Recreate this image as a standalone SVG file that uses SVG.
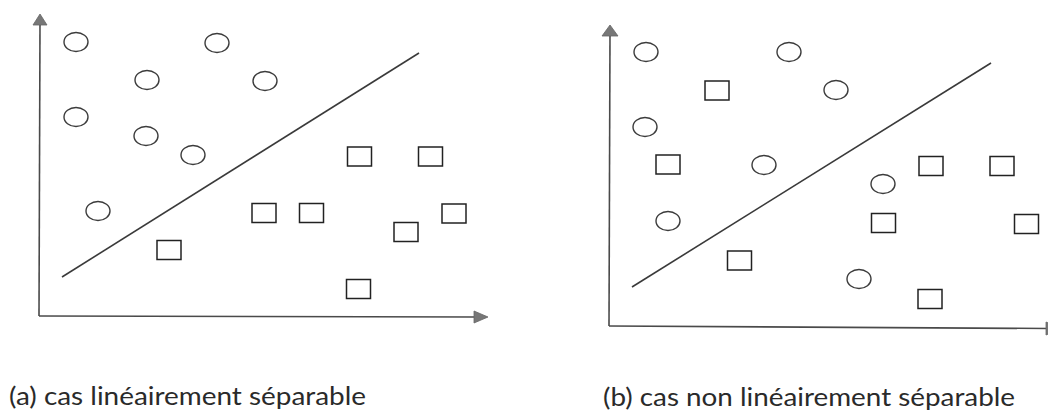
<svg xmlns="http://www.w3.org/2000/svg" xmlns:xlink="http://www.w3.org/1999/xlink" width="1048" height="412" viewBox="0 0 1048 412">
<style>
.axis{stroke:#4a4a4a;stroke-width:1.6;fill:none}
.arrow{fill:#777;stroke:#666;stroke-width:0.8}
.sep{stroke:#3a3a3a;stroke-width:1.6;fill:none}
.c{fill:none;stroke:#3c3c3c;stroke-width:1.4}
.s{fill:none;stroke:#222;stroke-width:1.5}
.cap{font-family:Lato,"Open Sans","Liberation Sans",sans-serif;font-size:25px;fill:#2a2a2a}
</style>
<defs>
<ellipse id="circ" cx="0" cy="0" rx="12" ry="9.5" class="c"/>
<rect id="sq" x="-12" y="-9.5" width="24" height="19" class="s"/>
</defs>
<rect width="1048" height="412" fill="#fff"/>

<g id="panel-a">
  <g id="axes-a">
    <line class="axis" x1="40" y1="22" x2="39" y2="316"/>
    <line class="axis" x1="39" y1="316" x2="476" y2="317"/>
    <polygon class="arrow" points="40,14 47,25 33,25"/>
    <polygon class="arrow" points="488,317 474,311 474,323"/>
  </g>
  <line id="separator-a" class="sep" x1="62" y1="277" x2="419" y2="53"/>
  <g id="circles-a">
    <use xlink:href="#circ" href="#circ" x="76" y="42"/>
    <use xlink:href="#circ" href="#circ" x="217" y="43"/>
    <use xlink:href="#circ" href="#circ" x="147" y="80"/>
    <use xlink:href="#circ" href="#circ" x="265" y="81"/>
    <use xlink:href="#circ" href="#circ" x="76" y="117"/>
    <use xlink:href="#circ" href="#circ" x="146" y="136"/>
    <use xlink:href="#circ" href="#circ" x="193" y="155"/>
    <use xlink:href="#circ" href="#circ" x="98" y="211"/>
  </g>
  <g id="squares-a">
    <use xlink:href="#sq" href="#sq" x="359.5" y="156.5"/>
    <use xlink:href="#sq" href="#sq" x="430.5" y="156.5"/>
    <use xlink:href="#sq" href="#sq" x="264" y="213"/>
    <use xlink:href="#sq" href="#sq" x="311.5" y="213"/>
    <use xlink:href="#sq" href="#sq" x="454" y="213.5"/>
    <use xlink:href="#sq" href="#sq" x="406" y="232"/>
    <use xlink:href="#sq" href="#sq" x="169" y="250"/>
    <use xlink:href="#sq" href="#sq" x="358.5" y="289"/>
  </g>
  <text id="caption-a" class="cap" x="9" y="405" textLength="357" lengthAdjust="spacingAndGlyphs">(a) cas linéairement séparable</text>
</g>

<g id="panel-b">
  <g id="axes-b">
    <line class="axis" x1="610" y1="33" x2="609" y2="326" stroke="#666"/>
    <line class="axis" x1="609" y1="326" x2="1048" y2="328.5"/>
    <polygon class="arrow" points="610,25 618,36 602,36"/>
    <polygon class="arrow" points="1062,328.5 1046,322 1046,335"/>
  </g>
  <line id="separator-b" class="sep" x1="632" y1="287" x2="991" y2="63"/>
  <g id="circles-b">
    <use xlink:href="#circ" href="#circ" x="646" y="52"/>
    <use xlink:href="#circ" href="#circ" x="789" y="52"/>
    <use xlink:href="#circ" href="#circ" x="836" y="90"/>
    <use xlink:href="#circ" href="#circ" x="645" y="127"/>
    <use xlink:href="#circ" href="#circ" x="764" y="165"/>
    <use xlink:href="#circ" href="#circ" x="883" y="184"/>
    <use xlink:href="#circ" href="#circ" x="668" y="221"/>
    <use xlink:href="#circ" href="#circ" x="859" y="279"/>
  </g>
  <g id="squares-b">
    <use xlink:href="#sq" href="#sq" x="717" y="90.5"/>
    <use xlink:href="#sq" href="#sq" x="668" y="164.5"/>
    <use xlink:href="#sq" href="#sq" x="931" y="166"/>
    <use xlink:href="#sq" href="#sq" x="1002" y="166"/>
    <use xlink:href="#sq" href="#sq" x="883.5" y="223"/>
    <use xlink:href="#sq" href="#sq" x="1026.5" y="224"/>
    <use xlink:href="#sq" href="#sq" x="739.5" y="260.5"/>
    <use xlink:href="#sq" href="#sq" x="930" y="299"/>
  </g>
  <text id="caption-b" class="cap" x="603" y="406" textLength="412" lengthAdjust="spacingAndGlyphs">(b) cas non linéairement séparable</text>
</g>
</svg>
